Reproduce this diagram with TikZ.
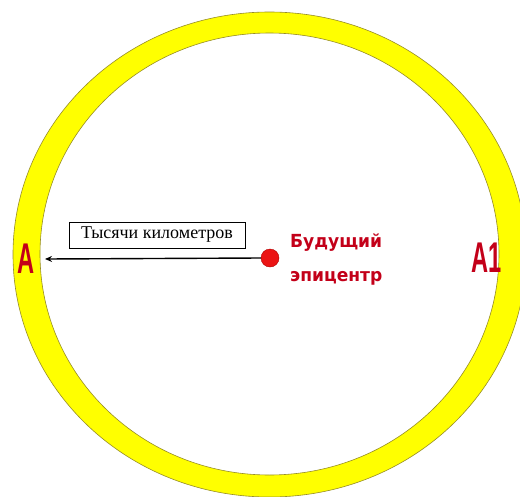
\documentclass[tikz,border=0pt]{standalone}
\usepackage{fontspec}
\setmainfont{Liberation Serif}
\newfontfamily\headfont{Liberation Sans}
\newfontfamily\epifont{DejaVu Sans}
\usepackage{xcolor}
\usetikzlibrary{arrows.meta, positioning}

\definecolor{ringyellow}{RGB}{255,255,0}
\definecolor{ringedge}{RGB}{150,140,40}
\definecolor{epired}{RGB}{235,20,20}
\definecolor{textred}{RGB}{195,0,25}

\begin{document}
\begin{tikzpicture}[x=1pt, y=-1pt, >=Stealth,
    pointlabel/.style={font=\headfont\bfseries\fontsize{43}{43}\selectfont, text=textred, inner sep=0pt, xscale=0.55},
    epilabel/.style={font=\epifont\bfseries\fontsize{18}{34}\selectfont, text=textred, align=left, inner sep=0pt, xscale=0.95}]
  \useasboundingbox (0,0) rectangle (520,496);

  % Ring
  \fill[ringyellow, even odd rule] (269.5,254.5) ellipse [x radius=256.5, y radius=242.5]
                                   (269.5,254) ellipse [x radius=229.5, y radius=221];
  \draw[ringedge, line width=0.6pt] (269.5,254.5) ellipse [x radius=256.5, y radius=242.5];
  \draw[ringedge, line width=0.6pt] (269.5,254) ellipse [x radius=229.5, y radius=221];

  % Epicentre
  \node[circle, fill=epired, draw=red!70!black, line width=0.4pt, minimum size=18pt, inner sep=0pt] (epi) at (270,258) {};
  \node[epilabel, anchor=west] (epitext) at (290,259) {Будущий\\эпицентр};

  % Points A and A1
  \node[pointlabel] (A) at (26,259) {A};
  \node[pointlabel] (A1) at (487,258) {A1};
  \coordinate (tip) at (45,259);

  % Distance arrow and label
  \draw[->, line width=1.4pt, >={Stealth[length=7pt, width=6pt]}] (epi.west) -- (tip);
  \node[draw, line width=0.5pt, minimum width=176pt, minimum height=26pt, inner sep=0pt,
        font=\fontsize{18}{18}\selectfont] (dist) at (157,235) {Тысячи километров};
\end{tikzpicture}
\end{document}
